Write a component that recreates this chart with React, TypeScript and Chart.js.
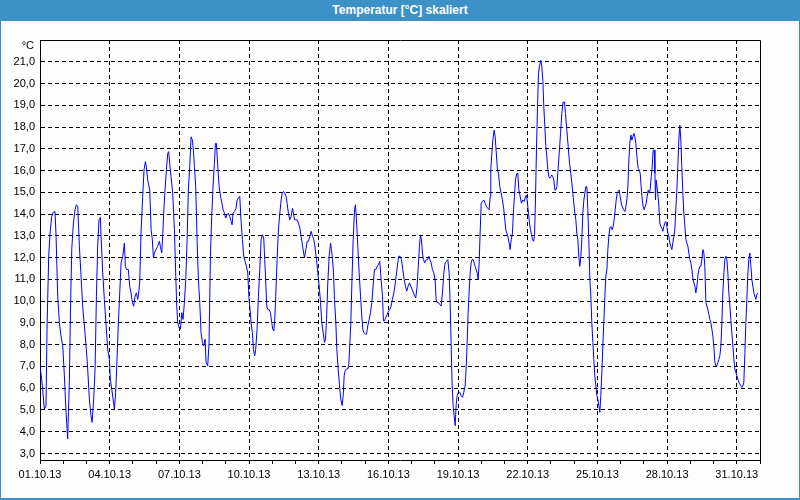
import { useEffect, useRef } from 'react';
import { Chart, registerables } from 'chart.js';

Chart.register(...registerables);

const chartTitle = 'Temperatur [°C] skaliert';
const unitLabel = '°C';

// x axis: hours since 01.10.13 00:00
const xLabels = ['01.10.13', '04.10.13', '07.10.13', '10.10.13', '13.10.13', '16.10.13', '19.10.13', '22.10.13', '25.10.13', '28.10.13', '31.10.13'];
const xLabelHours = [0, 72, 144, 216, 288, 360, 432, 504, 576, 648, 720];
const xMax = 744;
const dayTickHours: number[] = [];
for (let h = 0; h <= xMax; h += 24) dayTickHours.push(h);

const yTicks = [3, 4, 5, 6, 7, 8, 9, 10, 11, 12, 13, 14, 15, 16, 17, 18, 19, 20, 21];
const yMin = 2.7;
const yMax = 22.0;

const hours = [
  0, 2.0, 4.5, 6.2, 7.3, 9.0, 10.4, 12.1, 13.8, 15.5, 16.6, 18.3, 20.0, 21.7, 23.5, 25.2, 26.9, 28.6, 30.4, 31.4,
  32.8, 34.5, 36.2, 37.6, 39.0, 40.7, 42.4, 44.1, 45.9, 47.6, 49.3, 51.0, 52.7, 53.8, 55.5, 56.9, 58.3, 59.6, 61.0, 62.4,
  63.1, 64.8, 66.5, 68.3, 70.0, 71.7, 72.7, 74.1, 75.5, 76.9, 78.2, 79.6, 81.0, 82.4, 83.8, 85.5, 87.2, 88.2, 89.6, 91.3,
  92.7, 94.1, 95.5, 96.8, 98.2, 99.6, 101.0, 102.0, 103.0, 104.4, 106.1, 107.5, 108.9, 109.9, 111.3, 113.4, 114.8, 116.1, 117.2, 118.2,
  119.9, 121.6, 123.4, 124.4, 125.8, 126.8, 127.8, 129.2, 130.6, 132.0, 133.0, 134.0, 135.4, 137.1, 138.9, 140.3, 141.3, 142.3, 143.7, 145.1,
  146.5, 147.8, 149.2, 150.6, 152.0, 153.3, 154.7, 156.1, 157.5, 158.5, 159.6, 160.9, 162.3, 163.7, 165.1, 166.4, 167.8, 169.2, 170.6, 171.6,
  173.3, 174.7, 176.1, 177.4, 178.8, 180.2, 181.3, 182.3, 183.7, 185.1, 186.6, 188.0,
  189.2, 190.6, 191.9, 193.3, 194.7, 196.1, 197.5, 198.5, 199.5, 200.9, 202.6, 203.6, 205.0, 206.4, 207.8, 209.2, 210.5, 211.9, 213.3, 214.7,
  216.0, 217.1, 218.1, 219.5, 220.5, 221.9, 222.9, 224.3, 225.7, 227.1, 228.5, 229.8, 231.2, 232.2, 233.3, 234.3, 235.3, 236.7, 238.1, 239.5,
  240.5, 241.6, 242.6, 243.6, 245.0, 246.4, 247.8, 249.2, 250.2, 251.6, 252.9, 254.3, 255.3, 256.7, 258.1, 259.5, 260.9, 261.9, 263.0, 264.3,
  265.7, 267.1, 268.5, 269.8, 270.9, 271.9, 273.3, 274.7, 276.0, 277.4, 278.8, 280.2, 281.6, 283.0, 284.3, 285.7, 287.1, 288.5, 289.9, 291.2,
  292.6, 294.0, 295.0, 296.1, 297.4, 298.8, 300.2, 301.2, 302.3, 303.3, 304.3, 305.7, 306.7, 308.1, 309.5, 310.8, 312.2, 313.3, 314.3, 315.3,
  316.7, 318.1, 319.1, 320.1, 321.2, 322.2, 323.6, 325.0, 326.0, 327.0, 328.4, 329.8, 331.2, 332.5, 333.6, 334.6, 336.3, 337.4, 338.7, 340.1,
  341.5, 342.9, 344.2, 345.6, 347.0, 348.4, 349.7, 351.1, 352.5, 353.9, 354.9, 356.0, 357.3, 358.7, 360.1, 361.5, 362.8, 364.2, 365.6, 367.0,
  368.4, 369.7,
  370.7, 372.1, 373.5, 374.9, 376.3, 377.6, 379.0, 380.4, 381.8, 383.1, 384.5, 385.9, 387.3, 388.3, 389.7, 390.7, 392.1, 393.1, 394.2, 395.2,
  396.2, 397.6, 399.0, 400.4, 401.8, 402.8, 404.2, 405.5, 406.9, 408.3, 409.3, 410.4, 411.8, 413.1, 414.5, 415.9, 417.3, 418.6, 420.0, 421.4,
  422.8, 423.8, 424.8, 425.9, 426.9, 427.9, 429.0, 430.0, 431.0, 432.4, 433.8, 435.2, 436.6, 437.9, 439.3, 440.3, 441.4, 442.4, 443.4, 444.5,
  445.5, 446.5, 447.6, 448.6, 449.6, 450.7, 451.7, 452.7, 453.8, 454.8, 455.9, 457.2, 458.6, 460.0, 461.4, 462.7, 464.1, 465.2, 465.8, 466.9,
  467.9, 469.3, 470.3, 471.3, 472.7, 473.8, 475.1, 476.5, 477.9, 479.3, 480.3, 481.3, 482.4, 483.4, 484.8, 485.8, 486.9, 488.2, 489.3, 490.3,
  491.3, 492.7, 493.8, 494.8, 496.2, 497.5, 498.9, 500.3, 501.7, 502.7, 503.7, 504.8, 505.8, 506.9, 507.9, 508.9, 510.0, 511.0, 512.0, 513.0,
  514.1, 515.1, 516.2, 517.5, 518.6, 519.6, 520.6, 521.7, 522.7, 523.7, 524.8, 525.8, 526.8, 527.9, 528.9, 529.9, 531.0, 532.0, 533.0, 534.1,
  535.1, 536.5, 537.9, 539.2, 540.6, 542.0, 543.0, 544.4, 545.8, 547.2, 548.5, 549.6, 550.6, 551.6, 552.7, 553.7, 554.7,
  555.8, 556.8, 557.8, 558.9, 559.9, 560.9, 562.0, 563.0, 564.0, 565.1, 566.1, 567.1, 568.2, 569.2, 570.2, 571.3, 572.3, 573.3, 574.4, 575.4,
  576.4, 577.5, 578.5, 579.5, 580.6, 581.6, 582.6, 583.7, 584.7, 585.8, 586.8, 587.8, 588.9, 589.9, 591.3, 592.3, 593.3, 594.4, 595.4, 596.4,
  597.5, 598.5, 599.5, 600.6, 601.6, 603.0, 604.4, 605.4, 606.4, 607.5, 608.5, 609.5, 610.6, 611.6, 612.6, 613.7, 614.7, 615.7, 616.8, 618.1,
  619.2, 620.2, 621.2, 622.3, 623.3, 624.3, 625.4, 626.4, 627.4, 628.5, 629.5, 630.5, 631.6, 632.6, 633.6, 634.7, 635.4, 636.0, 636.7, 637.4,
  638.4, 639.5, 640.5, 641.5, 642.6, 643.6, 644.6, 645.7, 646.7, 647.7, 648.8, 649.8, 650.8, 651.9, 652.9, 653.9, 655.0, 656.0, 657.0, 658.1,
  659.1, 660.1, 661.2, 662.2, 663.2, 664.3, 665.3, 666.4, 667.4, 668.4, 669.5, 670.5, 671.5, 672.6, 673.6, 674.6, 675.7, 676.7, 677.7, 678.8,
  679.8, 680.8, 681.9, 682.9, 683.9, 685.0, 686.0, 687.0, 688.1, 689.1, 690.1, 691.2, 692.2, 693.2, 694.3, 695.3, 696.3, 697.4, 698.4, 699.4,
  700.5, 701.5, 702.5, 703.6, 704.6, 705.6, 706.7, 707.7, 708.7, 709.8, 710.8, 711.8, 712.9, 713.9, 714.9, 716.0, 717.0, 718.0, 719.1, 720.1,
  721.1, 722.2, 723.2, 724.2, 725.3, 726.3, 727.3, 728.4, 729.4, 730.4, 731.5, 732.5, 733.5, 734.6, 735.6, 736.6, 737.7, 738.7, 739.7, 740.8,
  741.8,
];

const temps = [
  7.03, 6.3, 5.04, 5.20, 8.86, 12.06, 13.13, 13.89, 14.09, 14.12, 12.98, 10.23, 9.01, 8.40, 7.94, 6.57, 4.89, 3.67, 6.42, 9.32,
  12.37, 13.59, 14.20, 14.43, 14.35, 12.52, 11.15, 9.77, 8.86, 7.94, 6.88, 5.50, 4.74, 4.43, 5.50, 6.88, 10.23, 12.52, 13.74, 13.85,
  12.98, 11.30, 10.08, 8.86, 7.79, 7.33, 6.42, 5.96, 5.50, 5.04, 5.81, 7.33, 9.01, 10.38, 11.76, 12.06, 12.67, 11.60, 11.45, 11.45,
  10.69, 10.38, 9.93, 9.77, 10.23, 10.38, 10.08, 10.38, 10.84, 13.13, 14.81, 16.03, 16.41, 16.18, 15.57, 15.11, 13.28, 12.82, 11.99, 12.21,
  12.37, 12.52, 12.75, 12.52, 12.21, 12.98, 14.04, 15.11, 16.03, 16.79, 16.87, 16.33, 15.72, 14.96, 13.28, 11.15, 9.77, 9.01, 8.78, 8.71,
  9.47, 9.16, 9.93, 10.99, 12.82, 15.11, 16.18, 17.55, 17.40, 16.94, 16.18, 15.26, 12.82, 10.99, 9.93, 8.55, 8.10, 7.94, 8.25, 7.18,
  7.03, 8.10, 12.06, 13.89, 15.26, 16.33, 17.25, 17.25, 16.18, 15.26, 14.81, 14.50,
  14.20, 14.04, 13.82, 13.97, 14.04, 13.89, 13.66, 13.51, 14.04, 14.12, 14.27, 14.65, 14.73, 14.81, 13.66, 12.82, 12.06, 11.83, 11.60, 11.30,
  10.08, 9.62, 9.01, 8.55, 7.79, 7.49, 7.79, 8.71, 10.23, 11.45, 12.82, 13.05, 12.90, 11.91, 10.84, 9.77, 9.62, 9.62, 9.47, 9.01,
  8.71, 8.63, 9.16, 10.23, 11.91, 13.28, 14.04, 14.65, 14.96, 15.04, 14.96, 14.81, 14.50, 14.04, 13.74, 13.89, 14.27, 14.04, 13.74, 13.74,
  13.74, 13.59, 13.36, 12.98, 12.67, 12.37, 11.99, 12.37, 12.75, 12.75, 12.98, 13.21, 12.98, 12.82, 12.44, 11.91, 11.30, 10.69, 9.93, 9.01,
  8.55, 8.10, 8.25, 9.16, 10.84, 12.06, 12.67, 12.37, 11.91, 11.30, 10.08, 9.01, 7.79, 6.88, 6.11, 5.50, 5.20, 5.66, 6.57, 6.80,
  6.88, 6.88, 7.10, 7.94, 9.01, 10.69, 12.82, 14.20, 14.43, 13.74, 12.52, 11.30, 10.23, 9.32, 8.71, 8.55, 8.48, 8.48, 8.86, 9.16,
  9.47, 9.93, 10.69, 11.45, 11.45, 11.60, 11.68, 11.83, 10.99, 10.23, 9.09, 9.09, 9.24, 9.39, 9.54, 9.62, 9.77, 10.08, 10.38, 10.77,
  11.30, 11.76,
  12.06, 12.06, 11.91, 11.45, 10.99, 10.69, 10.46, 10.69, 10.84, 10.69, 10.54, 10.38, 10.23, 10.15, 10.69, 11.45, 12.52, 13.05, 12.82, 12.21,
  11.91, 11.76, 11.91, 11.91, 12.06, 11.91, 11.76, 11.45, 11.30, 10.99, 10.08, 9.93, 9.93, 9.85, 9.77, 10.38, 11.30, 11.76, 11.83, 11.91,
  11.30, 9.93, 8.10, 6.11, 5.20, 4.74, 4.28, 5.20, 5.66, 5.81, 5.81, 5.66, 5.58, 5.81, 6.11, 6.88, 8.10, 9.47, 10.38, 11.30,
  11.76, 11.91, 11.91, 11.76, 11.60, 11.45, 11.30, 10.99, 11.76, 13.13, 14.50, 14.58, 14.65, 14.50, 14.35, 14.27, 14.20, 14.81, 16.03, 16.79,
  17.40, 17.86, 17.55, 16.94, 16.03, 15.87, 15.26, 14.96, 14.65, 14.20, 13.74, 13.28, 13.13, 12.98, 12.67, 12.37, 12.82, 13.13, 14.20, 14.81,
  15.57, 15.87, 15.87, 15.11, 14.81, 14.50, 14.65, 14.58, 14.81, 14.88, 14.50, 14.04, 13.59, 13.28, 13.05, 12.82, 12.75, 12.98, 14.65, 16.94,
  18.93, 20.45, 20.83, 21.06, 20.76, 20.15, 18.93, 18.01, 17.10, 16.64, 16.03, 15.72, 15.65, 15.72, 15.80, 15.72, 15.57, 15.11, 15.11, 15.26,
  15.87, 16.79, 17.71, 18.62, 19.15, 19.15, 18.62, 17.86, 17.10, 16.33, 15.87, 15.42, 14.96, 14.50, 14.04, 13.74, 13.13,
  12.82, 12.06, 11.60, 12.06, 12.82, 14.04, 14.65, 14.96, 15.26, 15.26, 14.20, 12.82, 10.99, 10.23, 9.01, 8.10, 7.33, 6.57, 6.11, 5.66,
  5.50, 5.20, 4.89, 5.66, 6.72, 7.94, 9.01, 10.23, 11.15, 11.45, 12.37, 12.98, 13.36, 13.43, 13.28, 13.43, 13.74, 14.20, 14.65, 14.96,
  15.04, 15.11, 14.81, 14.50, 14.35, 14.20, 14.12, 14.35, 14.65, 15.26, 16.49, 17.25, 17.63, 17.40, 17.55, 17.71, 17.55, 17.25, 16.64, 16.10,
  16.03, 15.87, 15.26, 14.65, 14.35, 14.20, 14.35, 14.50, 14.81, 15.11, 14.96, 15.11, 15.72, 16.18, 16.94, 16.94, 15.87, 14.65, 15.57, 15.57,
  14.96, 14.35, 13.59, 13.43, 13.36, 13.21, 13.43, 13.59, 13.66, 13.43, 13.13, 12.98, 12.67, 12.52, 12.37, 12.67, 12.98, 13.28, 14.20, 15.11,
  16.18, 17.40, 18.09, 17.40, 16.18, 14.96, 14.04, 13.43, 12.82, 12.67, 12.52, 12.21, 11.91, 11.76, 11.45, 11.07, 10.84, 10.69, 10.38, 10.69,
  11.15, 11.45, 11.60, 11.60, 11.91, 12.37, 12.21, 11.60, 9.93, 9.77, 9.62, 9.39, 9.16, 9.01, 8.71, 8.40, 7.94, 7.18, 7.03, 7.03,
  7.18, 7.33, 7.49, 7.94, 9.01, 10.38, 11.30, 11.91, 12.06, 11.91, 11.30, 10.38, 9.77, 9.16, 8.55, 7.94, 7.33, 6.88, 6.72, 6.57,
  6.42, 6.27, 6.19, 6.11, 6.04, 6.11, 6.27, 7.64, 9.01, 10.08, 11.30, 11.91, 12.21, 11.60, 10.99, 10.69, 10.38, 10.23, 10.08, 10.31,
  10.38,
];

const FONT_FAMILY = '"Liberation Sans", Arial, sans-serif';
const TITLE_BLUE = '#3c92c6';
const BG = '#fcfdfc';

const framePlugin = {
  id: 'frame',
  afterDraw(chart: any) {
    const { ctx, chartArea } = chart;
    const l = Math.round(chartArea.left) + 0.5;
    const t = Math.round(chartArea.top) + 0.5;
    const r = Math.round(chartArea.right) + 0.5;
    const b = Math.round(chartArea.bottom) + 0.5;
    ctx.save();
    ctx.strokeStyle = '#000';
    ctx.lineWidth = 1;
    ctx.setLineDash([]);
    ctx.beginPath();
    ctx.moveTo(l, t);
    ctx.lineTo(r, t);
    ctx.lineTo(r, b);
    ctx.stroke();
    ctx.fillStyle = '#000';
    ctx.font = `11px ${FONT_FAMILY}`;
    ctx.textAlign = 'right';
    ctx.textBaseline = 'middle';
    ctx.fillText(unitLabel, chartArea.left - 6, chartArea.top + 6);
    ctx.restore();
  },
};

export default function App() {
  const ref = useRef<HTMLCanvasElement>(null);

  useEffect(() => {
    document.body.style.margin = '0';
    const points = hours.map((h, i) => ({ x: h, y: temps[i] }));
    const chart = new Chart(ref.current as HTMLCanvasElement, {
      type: 'line',
      data: {
        datasets: [
          {
            data: points,
            borderColor: '#0000ff',
            borderWidth: 1,
            pointRadius: 0,
            tension: 0,
            fill: false,
          },
        ],
      },
      options: {
        animation: false,
        responsive: false,
        maintainAspectRatio: false,
        events: [],
        layout: { padding: { top: 40, right: 40, bottom: 10, left: 0 } },
        plugins: {
          legend: { display: false },
          tooltip: { enabled: false },
          title: { display: false },
        },
        scales: {
          x: {
            type: 'linear',
            min: 0,
            max: xMax,
            afterBuildTicks: (scale: any) => {
              scale.ticks = dayTickHours.map((v) => ({ value: v }));
            },
            afterFit: (scale: any) => {
              scale.height = 30;
            },
            ticks: {
              autoSkip: false,
              maxRotation: 0,
              minRotation: 0,
              padding: 4,
              color: '#000',
              font: { family: FONT_FAMILY, size: 11 },
              callback: (v: any) => {
                const idx = xLabelHours.indexOf(Number(v));
                return idx >= 0 ? xLabels[idx] : '';
              },
            },
            grid: {
              drawTicks: true,
              tickLength: 4,
              tickColor: '#000',
              tickWidth: 1,
              tickBorderDash: [],
              lineWidth: 1,
              color: (ctx: any) => {
                const v = ctx.tick ? ctx.tick.value : -1;
                return v > 0 && v < xMax && xLabelHours.indexOf(v) >= 0 ? '#000' : 'rgba(0,0,0,0)';
              },
            },
            border: { display: true, color: '#000', width: 1, dash: [4, 3] },
          },
          y: {
            type: 'linear',
            min: yMin,
            max: yMax,
            afterBuildTicks: (scale: any) => {
              scale.ticks = yTicks.map((v) => ({ value: v }));
            },
            afterFit: (scale: any) => {
              scale.width = 40;
            },
            ticks: {
              padding: 5,
              color: '#000',
              font: { family: FONT_FAMILY, size: 11 },
              callback: (v: any) => Number(v).toFixed(1).replace('.', ','),
            },
            grid: {
              drawTicks: false,
              lineWidth: 1,
              color: '#000',
            },
            border: { display: true, color: '#000', width: 1, dash: [4, 3] },
          },
        },
      },
      plugins: [framePlugin],
    } as any);
    return () => chart.destroy();
  }, []);

  return (
    <div style={{ position: 'relative', width: 800, height: 500, background: BG, overflow: 'hidden' }}>
      <canvas ref={ref} width={800} height={500} style={{ position: 'absolute', left: 0, top: 0, width: 800, height: 500 }} />
      <div
        style={{
          position: 'absolute',
          left: 0,
          top: 0,
          width: 800,
          height: 21,
          background: TITLE_BLUE,
          color: '#fff',
          fontFamily: FONT_FAMILY,
          fontWeight: 'bold',
          fontSize: 12,
          lineHeight: '21px',
          textAlign: 'center',
        }}
      >
        {chartTitle}
      </div>
      <div
        style={{
          position: 'absolute',
          left: 0,
          top: 0,
          width: 800,
          height: 500,
          boxSizing: 'border-box',
          borderLeft: `1px solid ${TITLE_BLUE}`,
          borderRight: `1px solid ${TITLE_BLUE}`,
          borderBottom: `2px solid ${TITLE_BLUE}`,
          pointerEvents: 'none',
        }}
      />
    </div>
  );
}
